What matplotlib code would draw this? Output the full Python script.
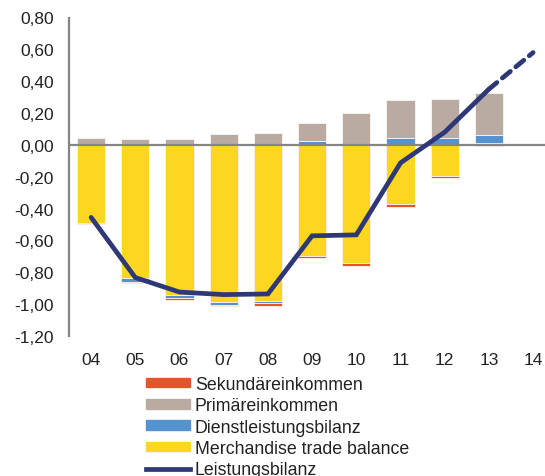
import numpy as np
import matplotlib
matplotlib.use("Agg")
import matplotlib.pyplot as plt
from matplotlib.patches import Patch
from matplotlib.lines import Line2D

plt.rcParams['font.family'] = ['Liberation Sans', 'DejaVu Sans']

years = ['04', '05', '06', '07', '08', '09', '10', '11', '12', '13', '14']
merchandise = [-0.49, -0.838, -0.94, -0.985, -0.98, -0.70, -0.74, -0.374, -0.195, 0.012]
services = [0.0, -0.022, -0.023, -0.018, -0.015, 0.022, 0.005, 0.042, 0.046, 0.053]
primary = [0.042, 0.036, 0.038, 0.071, 0.075, 0.115, 0.195, 0.237, 0.242, 0.261]
secondary = [-0.008, -0.01, -0.008, -0.011, -0.017, -0.01, -0.021, -0.018, -0.015, -0.008]
current_account = [-0.455, -0.833, -0.924, -0.94, -0.936, -0.571, -0.565, -0.113, 0.08, 0.35, 0.58]
yticks = [0.8, 0.6, 0.4, 0.2, 0.0, -0.2, -0.4, -0.6, -0.8, -1.0, -1.2]

c_yellow = '#FDD71F'
c_blue = '#5592D0'
c_brown = '#B9ABA2'
c_red = '#E8532B'
c_line = '#2E3877'

W, H = 545, 477
fig = plt.figure(figsize=(W / 100, H / 100), dpi=100)
ax = fig.add_axes([69 / W, (H - 337) / H, (W - 69) / W, (337 - 18.5) / H])

x = np.arange(len(years))
nb = len(merchandise)
bw = 0.64
pos_base = np.zeros(nb)
neg_base = np.zeros(nb)
for vals, col in [(merchandise, c_yellow), (services, c_blue), (primary, c_brown), (secondary, c_red)]:
    v = np.array(vals)
    bottoms = np.where(v >= 0, pos_base, neg_base)
    ax.bar(x[:nb], v, bw, bottom=bottoms, color=col, edgecolor='#FBF5EE', linewidth=0.6, zorder=2)
    pos_base = pos_base + np.where(v >= 0, v, 0)
    neg_base = neg_base + np.where(v < 0, v, 0)

ax.axhline(0, color='#858585', lw=1.6, zorder=3)
ax.plot(x[:10], current_account[:10], color=c_line, lw=3.4, zorder=4, solid_joinstyle='miter', solid_capstyle='round')
ax.plot(x[9:], current_account[9:], color=c_line, lw=3.4, zorder=4, dashes=(2.2, 1.5), dash_capstyle='round')

ax.set_ylim(-1.2, 0.8)
ax.set_xlim(-0.5, -0.5 + (W - 69) / 44.2)
ax.set_yticks(yticks)
ax.set_yticklabels([f"{t:.2f}".replace('.', ',') for t in yticks])
ax.set_xticks(x)
ax.set_xticklabels(years)
ax.tick_params(axis='y', length=0, pad=11, labelsize=12.5, colors='#222222')
ax.tick_params(axis='x', length=0, pad=11.5, labelsize=12.5, colors='#222222')
for s in ['top', 'right', 'bottom']:
    ax.spines[s].set_visible(False)
ax.spines['left'].set_color('#858585')
ax.spines['left'].set_linewidth(1.6)

handles = [Patch(color=c_red), Patch(color=c_brown), Patch(color=c_blue), Patch(color=c_yellow),
           Line2D([0], [0], color=c_line, lw=3.4)]
labels = ['Sekundäreinkommen', 'Primäreinkommen', 'Dienstleistungsbilanz', 'Merchandise trade balance', 'Leistungsbilanz']
fig.legend(handles, labels, loc='upper left', bbox_to_anchor=(146 / W, 1 - 377 / H), frameon=False,
           fontsize=12.8, handlelength=2.45, handleheight=0.45, handletextpad=0.3, labelspacing=0.24,
           borderpad=0, borderaxespad=0, labelcolor='#222222')

fig.savefig('out.png', dpi=100)
